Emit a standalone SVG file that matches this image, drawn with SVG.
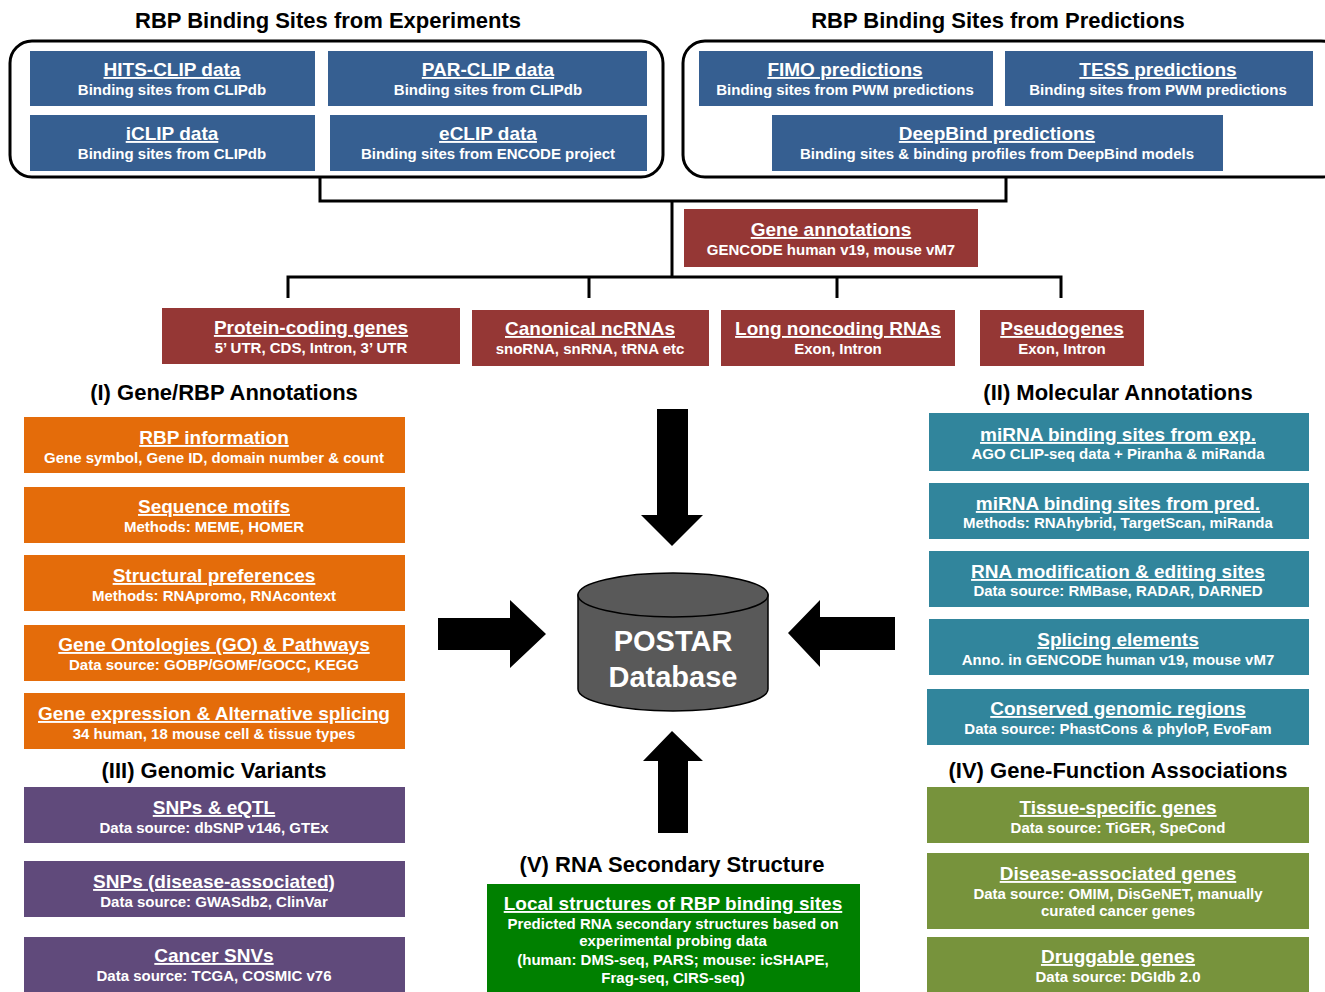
<svg xmlns="http://www.w3.org/2000/svg" width="1325" height="992" viewBox="0 0 1325 992">
<style>
text{font-family:"Liberation Sans",Arial,sans-serif;font-weight:bold;text-anchor:middle}
.h{font-size:22px;fill:#000}
.t{font-size:19px;fill:#fff;text-decoration:underline}
.s{font-size:15px;fill:#fff}
.blue{fill:#365F91}
.red{fill:#953735}
.org{fill:#E46C0A}
.teal{fill:#31859C}
.pur{fill:#604A7B}
.olv{fill:#77933C}
.grn{fill:#008000}
.panel{fill:none;stroke:#000;stroke-width:3}
.conn{fill:none;stroke:#000;stroke-width:3}
</style>
<rect width="1325" height="992" fill="#fff"/>

<g id="headings">
<text class="h" x="328" y="28">RBP Binding Sites from Experiments</text>
<text class="h" x="998" y="28">RBP Binding Sites from Predictions</text>
<text class="h" x="224" y="400">(I) Gene/RBP Annotations</text>
<text class="h" x="1118" y="400">(II) Molecular Annotations</text>
<text class="h" x="214" y="778">(III) Genomic Variants</text>
<text class="h" x="1118" y="778">(IV) Gene-Function Associations</text>
<text class="h" x="672" y="872">(V) RNA Secondary Structure</text>
</g>

<g id="panel-experiments"><rect class="panel" x="10" y="41" width="653" height="136" rx="22"/></g>
<g id="panel-predictions"><rect class="panel" x="683" y="41" width="660" height="136" rx="22"/></g>

<g id="connectors">
<polyline class="conn" points="320,177 320,201 1006,201 1006,177"/>
<line class="conn" x1="672" y1="201" x2="672" y2="277"/>
<polyline class="conn" points="288,298 288,277 1061,277 1061,298"/>
<line class="conn" x1="589" y1="277" x2="589" y2="298"/>
<line class="conn" x1="837" y1="277" x2="837" y2="298"/>
<polygon fill="#000" points="657,409 688,409 688,515 703,515 672,546 641,515 657,515"/>
<polygon fill="#000" points="895,617 895,650 820,650 820,667 788,633 820,600 820,617"/>
<polygon fill="#000" points="658,833 688,833 688,761 703,761 672,731 643,761 658,761"/>
<polygon fill="#000" points="438,618 510,618 510,600 546,634 510,668 510,650 438,650"/>
</g>

<g id="hits-clip"><rect class="blue" x="30" y="51" width="285" height="55"/><text class="t" x="172" y="76">HITS-CLIP data</text><text class="s" x="172" y="95">Binding sites from CLIPdb</text></g>
<g id="par-clip"><rect class="blue" x="328" y="51" width="319" height="55"/><text class="t" x="488" y="76">PAR-CLIP data</text><text class="s" x="488" y="95">Binding sites from CLIPdb</text></g>
<g id="iclip"><rect class="blue" x="30" y="115" width="285" height="56"/><text class="t" x="172" y="140">iCLIP data</text><text class="s" x="172" y="159">Binding sites from CLIPdb</text></g>
<g id="eclip"><rect class="blue" x="330" y="115" width="317" height="56"/><text class="t" x="488" y="140">eCLIP data</text><text class="s" x="488" y="159">Binding sites from ENCODE project</text></g>
<g id="fimo"><rect class="blue" x="699" y="51" width="294" height="55"/><text class="t" x="845" y="76">FIMO predictions</text><text class="s" x="845" y="95">Binding sites from PWM predictions</text></g>
<g id="tess"><rect class="blue" x="1005" y="51" width="308" height="55"/><text class="t" x="1158" y="76">TESS predictions</text><text class="s" x="1158" y="95">Binding sites from PWM predictions</text></g>
<g id="deepbind"><rect class="blue" x="772" y="115" width="451" height="56"/><text class="t" x="997" y="140">DeepBind predictions</text><text class="s" x="997" y="159">Binding sites &amp; binding profiles from DeepBind models</text></g>

<g id="gene-annotations"><rect class="red" x="684" y="209" width="294" height="58"/><text class="t" x="831" y="236">Gene annotations</text><text class="s" x="831" y="255">GENCODE human v19, mouse vM7</text></g>
<g id="protein-coding"><rect class="red" x="162" y="308" width="298" height="56"/><text class="t" x="311" y="334">Protein-coding genes</text><text class="s" x="311" y="353">5’ UTR, CDS, Intron, 3’ UTR</text></g>
<g id="canonical-ncrnas"><rect class="red" x="472" y="310" width="237" height="56"/><text class="t" x="590" y="335">Canonical ncRNAs</text><text class="s" x="590" y="354">snoRNA, snRNA, tRNA etc</text></g>
<g id="lncrnas"><rect class="red" x="721" y="310" width="234" height="56"/><text class="t" x="838" y="335">Long noncoding RNAs</text><text class="s" x="838" y="354">Exon, Intron</text></g>
<g id="pseudogenes"><rect class="red" x="980" y="310" width="164" height="56"/><text class="t" x="1062" y="335">Pseudogenes</text><text class="s" x="1062" y="354">Exon, Intron</text></g>

<g id="rbp-info"><rect class="org" x="24" y="417" width="381" height="56"/><text class="t" x="214" y="444">RBP information</text><text class="s" x="214" y="463">Gene symbol, Gene ID, domain number &amp; count</text></g>
<g id="seq-motifs"><rect class="org" x="24" y="487" width="381" height="56"/><text class="t" x="214" y="513">Sequence motifs</text><text class="s" x="214" y="532">Methods: MEME, HOMER</text></g>
<g id="struct-pref"><rect class="org" x="24" y="555" width="381" height="56"/><text class="t" x="214" y="582">Structural preferences</text><text class="s" x="214" y="601">Methods: RNApromo, RNAcontext</text></g>
<g id="go-pathways"><rect class="org" x="24" y="625" width="381" height="56"/><text class="t" x="214" y="651">Gene Ontologies (GO) &amp; Pathways</text><text class="s" x="214" y="670">Data source: GOBP/GOMF/GOCC, KEGG</text></g>
<g id="gene-expr"><rect class="org" x="24" y="693" width="381" height="56"/><text class="t" x="214" y="720">Gene expression &amp; Alternative splicing</text><text class="s" x="214" y="739">34 human, 18 mouse cell &amp; tissue types</text></g>

<g id="mirna-exp"><rect class="teal" x="929" y="413" width="380" height="58"/><text class="t" x="1118" y="441">miRNA binding sites from exp.</text><text class="s" x="1118" y="459">AGO CLIP-seq data + Piranha &amp; miRanda</text></g>
<g id="mirna-pred"><rect class="teal" x="929" y="483" width="380" height="56"/><text class="t" x="1118" y="510">miRNA binding sites from pred.</text><text class="s" x="1118" y="528">Methods: RNAhybrid, TargetScan, miRanda</text></g>
<g id="rna-mod"><rect class="teal" x="929" y="551" width="380" height="56"/><text class="t" x="1118" y="578">RNA modification &amp; editing sites</text><text class="s" x="1118" y="596">Data source: RMBase, RADAR, DARNED</text></g>
<g id="splicing"><rect class="teal" x="929" y="619" width="380" height="56"/><text class="t" x="1118" y="646">Splicing elements</text><text class="s" x="1118" y="665">Anno. in GENCODE human v19, mouse vM7</text></g>
<g id="conserved"><rect class="teal" x="927" y="689" width="382" height="56"/><text class="t" x="1118" y="715">Conserved genomic regions</text><text class="s" x="1118" y="734">Data source: PhastCons &amp; phyloP, EvoFam</text></g>

<g id="snps-eqtl"><rect class="pur" x="24" y="787" width="381" height="56"/><text class="t" x="214" y="814">SNPs &amp; eQTL</text><text class="s" x="214" y="833">Data source: dbSNP v146, GTEx</text></g>
<g id="snps-disease"><rect class="pur" x="24" y="861" width="381" height="56"/><text class="t" x="214" y="888">SNPs (disease-associated)</text><text class="s" x="214" y="907">Data source: GWASdb2, ClinVar</text></g>
<g id="cancer-snvs"><rect class="pur" x="24" y="937" width="381" height="60"/><text class="t" x="214" y="962">Cancer SNVs</text><text class="s" x="214" y="981">Data source: TCGA, COSMIC v76</text></g>

<g id="tissue-genes"><rect class="olv" x="927" y="787" width="382" height="56"/><text class="t" x="1118" y="814">Tissue-specific genes</text><text class="s" x="1118" y="833">Data source: TiGER, SpeCond</text></g>
<g id="disease-genes"><rect class="olv" x="927" y="853" width="382" height="76"/><text class="t" x="1118" y="880">Disease-associated genes</text><text class="s" x="1118" y="899">Data source: OMIM, DisGeNET, manually</text><text class="s" x="1118" y="916">curated cancer genes</text></g>
<g id="druggable"><rect class="olv" x="927" y="937" width="382" height="60"/><text class="t" x="1118" y="963">Druggable genes</text><text class="s" x="1118" y="982">Data source: DGIdb 2.0</text></g>

<g id="local-structures"><rect class="grn" x="487" y="884" width="373" height="112"/><text class="t" x="673" y="910">Local structures of RBP binding sites</text><text class="s" x="673" y="929">Predicted RNA secondary structures based on</text><text class="s" x="673" y="946">experimental probing data</text><text class="s" x="673" y="965">(human: DMS-seq, PARS; mouse: icSHAPE,</text><text class="s" x="673" y="983">Frag-seq, CIRS-seq)</text></g>

<g id="postar-db">
<path d="M578,595 L578,689 A95,22 0 0 0 768,689 L768,595 Z" fill="#595959" stroke="#000" stroke-width="1.5"/>
<ellipse cx="673" cy="595" rx="95" ry="22" fill="#595959" stroke="#000" stroke-width="1.5"/>
<text x="673" y="651" style="font-size:29px;fill:#fff">POSTAR</text>
<text x="673" y="687" style="font-size:29px;fill:#fff">Database</text>
</g>
</svg>
